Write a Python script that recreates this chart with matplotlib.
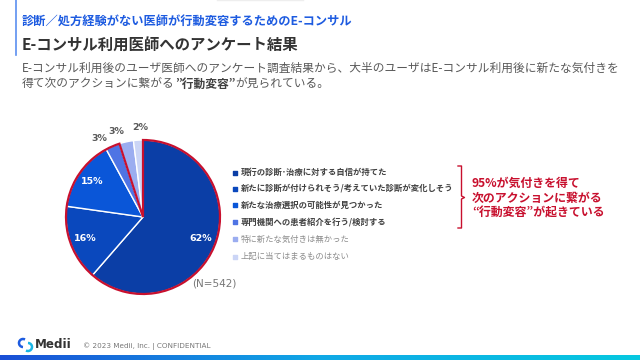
import matplotlib
matplotlib.use('Agg')
import matplotlib.pyplot as plt
import numpy as np
from matplotlib.patches import Wedge, Arc
from matplotlib.colors import LinearSegmentedColormap

plt.rcParams['font.family'] = ['Noto Sans CJK JP', 'DejaVu Sans']

# データ
categories = ['現行の診断･治療に対する自信が持てた',
              '新たに診断が付けられそう/考えていた診断が変化しそう',
              '新たな治療選択の可能性が見つかった',
              '専門機関への患者紹介を行う/検討する',
              '特に新たな気付きは無かった',
              '上記に当てはまるものはない']
values = [62, 16, 15, 3, 3, 2]
colors = ['#0b3ea6', '#0a48bd', '#0a56d8', '#4f74e4', '#9badf0', '#cbd5f6']
n_total = 542
highlight_count = 4  # 赤枠で囲む項目数
highlight_text = ['95%が気付きを得て', '次のアクションに繋がる', '“行動変容”が起きている']

title_top = '診断／処方経験がない医師が行動変容するためのE-コンサル'
title_main = 'E-コンサル利用医師へのアンケート結果'
sub_1 = 'E-コンサル利用後のユーザ医師へのアンケート調査結果から、大半のユーザはE-コンサル利用後に新たな気付きを'
sub_2 = ['得て次のアクションに繋がる', '”行動変容”', 'が見られている。']

fig = plt.figure(figsize=(6.4, 3.6), dpi=100)
ax = fig.add_axes([0, 0, 1, 1])
ax.set_xlim(0, 640)
ax.set_ylim(360, 0)
ax.axis('off')

# 上部の飾り
ax.plot([15.5, 15.5], [0, 55], color='#5b8ff0', lw=1.2)
ax.plot([217, 303], [0.3, 0.3], color='#eeeeee', lw=1)

# タイトル
ax.text(22, 22, title_top, fontsize=8.8, fontweight='bold', color='#1d5be0', va='center')
ax.text(22, 46, title_main, fontsize=11.1, fontweight='bold', color='#333333', va='center')
ax.text(22, 68, sub_1, fontsize=8.45, color='#595959', va='center')

renderer = fig.canvas.get_renderer()
x = 22
for i, part in enumerate(sub_2):
    t = ax.text(x, 84, part, fontsize=8.45, color='#595959' if i != 1 else '#404040',
                fontweight='bold' if i == 1 else 'normal', va='center')
    bb = t.get_window_extent(renderer=renderer)
    x += bb.width

# 円グラフ
cx, cy, r = 143, 217, 77
pax = fig.add_axes([(cx - 90) / 640, (360 - cy - 90) / 360, 180 / 640, 180 / 360])
wedges, _ = pax.pie(values, colors=colors, startangle=90, counterclock=False, radius=r,
                    wedgeprops=dict(edgecolor='white', linewidth=1))
pax.set_xlim(-90, 90)
pax.set_ylim(-90, 90)
pax.set_aspect('equal')
pax.axis('off')

total = sum(values)
frac = np.cumsum([0] + values) / total
label_shift = [0, 0, 0, 6, 5, -2]  # 小さい項目のラベル重なり回避
for i, v in enumerate(values):
    mid = 90 - 360 * (frac[i] + frac[i + 1]) / 2
    if v >= 10:
        d, c = 62, 'white'
    else:
        d, c = 90, '#595959'
    a = np.deg2rad(mid + label_shift[i])
    pax.text(d * np.cos(a), d * np.sin(a), f'{v}%', ha='center', va='center',
             fontsize=6.8, fontweight='bold', color=c, family='DejaVu Sans')

# 赤枠
end_angle = 90 - 360 * frac[highlight_count]
pax.add_patch(Wedge((0, 0), r, end_angle, 90, fill=False, edgecolor='#c8102e', lw=1.6, zorder=5))

ax.text(192, 283, f'(N={n_total})', fontsize=7.5, color='#777777', va='center',
        family='DejaVu Sans')

# 凡例
ys = [172.7, 188.5, 205, 221.7, 239.3, 256.7]
for i, (lab, col) in enumerate(zip(categories, colors)):
    ax.scatter(235, ys[i], marker='s', s=6, color=col)
    tc = '#404040' if i < highlight_count else '#8c8c8c'
    fw = 'bold' if i < highlight_count else 'normal'
    ax.text(240.5, ys[i], lab, fontsize=6, fontweight=fw, color=tc, va='center')

# 括弧
red = '#c8102e'
ax.plot([458, 461.5, 461.5, 464.5, 461.5, 461.5, 458],
        [166, 166, 196, 197.5, 199, 228, 228], color=red, lw=1)
for i, s in enumerate(highlight_text):
    ax.text(472, 183 + i * 15, s, fontsize=8.6, fontweight='bold', color=red, va='center')

# フッター
ax.add_patch(Arc((23, 343), 8, 8, theta1=90, theta2=300, color='#1d5be0', lw=1.8))
ax.add_patch(Arc((28, 347), 8, 8, theta1=270, theta2=480, color='#18b5e6', lw=1.8))
ax.text(35, 345, 'Medii', fontsize=8.6, fontweight='bold', color='#333333', va='center',
        family='DejaVu Sans')
ax.text(83, 346, '© 2023 Medii, Inc. | CONFIDENTIAL', fontsize=5.2, color='#777777',
        va='center', family='DejaVu Sans')

grad = np.linspace(0, 1, 256).reshape(1, -1)
cmap = LinearSegmentedColormap.from_list('band', ['#1a4fd6', '#10a8e6', '#06c8e0'])
ax.imshow(grad, cmap=cmap, aspect='auto', extent=[0, 640, 360, 355.5], zorder=0)
ax.set_xlim(0, 640)
ax.set_ylim(360, 0)

fig.savefig('out.png', dpi=100)
